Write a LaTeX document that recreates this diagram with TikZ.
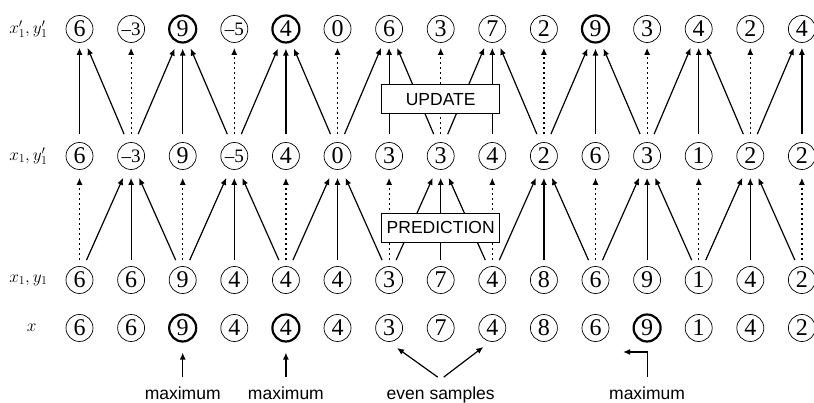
\documentclass[tikz,border=0pt]{standalone}
\usepackage{amsmath}
\usepackage{fontspec}
\setmainfont{Liberation Serif}
\newfontfamily\boxfont{Liberation Sans}
\usepackage{tikz}
\usetikzlibrary{positioning}
\usetikzlibrary{arrows.meta}
\tikzset{>={Latex[width=6pt,length=7pt]}}
\newcommand{\ngv}[1]{{\fontsize{19}{19}\selectfont--#1}}

\begin{document}
\begin{tikzpicture}[x=1pt, y=1pt, num/.style={circle, draw=black, minimum size=27pt, inner sep=0pt, font=\fontsize{24}{24}\selectfont}, rowlabel/.style={draw=none, fill=none, inner sep=0pt, font=\LARGE}, textbox/.style={rectangle, draw=black, line width=0.8pt, fill=white, minimum width=118pt, minimum height=29pt, inner sep=0pt, font=\boxfont\fontsize{17.5}{20}\selectfont}, emptynode/.style={draw=none, fill=none, inner sep=2pt, font=\boxfont\fontsize{17.5}{20}\selectfont}, link/.style={->, line width=1.2pt}, dotlink/.style={->, line width=1.2pt, dash pattern=on 2.5pt off 2.5pt}]

    \useasboundingbox (0,0) rectangle (814,403);

    %Nodes
    \foreach \v/\w [count=\i] in {6/0.7, \ngv3/0.7, 9/2.2, \ngv5/0.7, 4/2.2, 0/0.7, 6/0.7, 3/0.7, 7/0.7, 2/0.7, 9/2.2, 3/0.7, 4/0.7, 2/0.7, 4/0.7}
        \node[num, line width=\w pt](out-\i) at ({79.5+51.6*(\i-1)},374){\v};
    \foreach \v/\w [count=\i] in {6/0.7, \ngv3/0.7, 9/0.7, \ngv5/0.7, 4/0.7, 0/0.7, 3/0.7, 3/0.7, 4/0.7, 2/0.7, 6/0.7, 3/0.7, 1/0.7, 2/0.7, 2/0.7}
        \node[num, line width=\w pt](upd-\i) at ({79.5+51.6*(\i-1)},247){\v};
    \foreach \v/\w [count=\i] in {6/0.7, 6/0.7, 9/0.7, 4/0.7, 4/0.7, 4/0.7, 3/0.7, 7/0.7, 4/0.7, 8/0.7, 6/0.7, 9/0.7, 1/0.7, 4/0.7, 2/0.7}
        \node[num, line width=\w pt](pre-\i) at ({79.5+51.6*(\i-1)},123){\v};
    \foreach \v/\w [count=\i] in {6/0.7, 6/0.7, 9/2.2, 4/0.7, 4/2.2, 4/0.7, 3/0.7, 7/0.7, 4/0.7, 8/0.7, 6/0.7, 9/2.2, 1/0.7, 4/0.7, 2/0.7}
        \node[num, line width=\w pt](sig-\i) at ({79.5+51.6*(\i-1)},75){\v};

    \node[rowlabel](lab-out)[left=18pt of out-1]{$x_1',y_1'$};
    \node[rowlabel](lab-upd)[left=18pt of upd-1]{$x_1,y_1'$};
    \node[rowlabel](lab-pre)[left=18pt of pre-1]{$x_1,y_1$};
    \node[rowlabel](lab-sig)[left=29pt of sig-1]{$x$};

    %Lines
    \foreach \i in {1,3,...,15}
        \draw[dotlink] ([yshift=6pt]pre-\i.north) -- ([yshift=-8pt]upd-\i.south);
    \foreach \i in {2,4,...,14} {
        \pgfmathtruncatemacro\l{\i-1}
        \pgfmathtruncatemacro\r{\i+1}
        \draw[link] ([yshift=6pt]pre-\i.north) -- ([yshift=-8pt]upd-\i.south);
        \draw[link] ([shift={(7pt,6pt)}]pre-\l.north) -- ([shift={(-8pt,-8pt)}]upd-\i.south);
        \draw[link] ([shift={(-7pt,6pt)}]pre-\r.north) -- ([shift={(8pt,-8pt)}]upd-\i.south);
    }
    \foreach \i in {2,4,...,14}
        \draw[dotlink] ([yshift=8pt]upd-\i.north) -- ([yshift=-5pt]out-\i.south);
    \foreach \i in {1,3,...,15}
        \draw[link] ([yshift=8pt]upd-\i.north) -- ([yshift=-5pt]out-\i.south);
    \foreach \i in {3,5,...,15} {
        \pgfmathtruncatemacro\l{\i-1}
        \draw[link] ([shift={(7pt,8pt)}]upd-\l.north) -- ([shift={(-8pt,-5pt)}]out-\i.south);
    }
    \foreach \i in {1,3,...,13} {
        \pgfmathtruncatemacro\r{\i+1}
        \draw[link] ([shift={(-7pt,8pt)}]upd-\r.north) -- ([shift={(8pt,-5pt)}]out-\i.south);
    }

    %Boxes
    \node[textbox](update)[above=28pt of upd-8]{UPDATE};
    \node[textbox](prediction)[above=23.5pt of pre-8]{PREDICTION};

    %Labels
    \coordinate (base) at (0,3);
    \node[emptynode, anchor=base](max-a) at (sig-3 |- base){maximum};
    \node[emptynode, anchor=base](max-b) at (sig-5 |- base){maximum};
    \node[emptynode, anchor=base](even) at (sig-8 |- base){even samples};
    \node[emptynode, anchor=base](max-c) at (sig-12 |- base){maximum};
    \draw[link] ([yshift=8pt]max-a.north) -- ([yshift=-10pt]sig-3.south);
    \draw[link] ([yshift=8pt]max-b.north) -- ([yshift=-10pt]sig-5.south);
    \draw[link] ([shift={(-3pt,8pt)}]even.north) -- ([shift={(8pt,-20pt)}]sig-7.center);
    \draw[link] ([shift={(3pt,8pt)}]even.north) -- ([shift={(-9pt,-19pt)}]sig-9.center);
    \draw[link] ([yshift=8pt]max-c.north) |- ([shift={(-24pt,-24pt)}]sig-12.center);

\end{tikzpicture}
\end{document}
